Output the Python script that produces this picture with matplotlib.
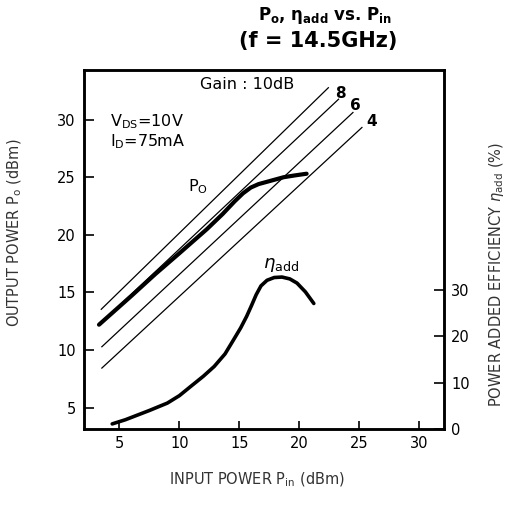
import matplotlib
matplotlib.use('Agg')
import matplotlib.pyplot as plt

plt.rcParams['font.family'] = ['DejaVu Sans']
plt.rcParams['mathtext.fontset'] = 'dejavusans'

# constant-gain reference lines: gain, Pin start/end, Pout start/end
gains = [10, 8, 6, 4]
gain_pin_start = [3.45, 3.3, 3.5, 3.5]
gain_pin_end = [22.45, 23.3, 24.5, 25.25]
gain_pout_start = [13.5, 12.2, 10.25, 8.4]
gain_pout_end = [32.8, 31.8, 30.65, 29.35]

# output power curve
po_pin = [3.3, 6.0, 8.0, 10.0, 12.3, 13.6, 14.6, 15.3, 15.95, 16.6, 17.3, 18.0, 18.7, 19.6, 20.6]
po_pout = [12.2, 14.7, 16.6, 18.4, 20.5, 21.8, 22.9, 23.6, 24.1, 24.4, 24.6, 24.8, 25.0, 25.15, 25.3]

# power added efficiency curve
eta_pin = [4.4, 5.5, 6.2, 7.5, 9.0, 10.0, 10.9, 12.0, 12.9, 13.8, 14.5, 15.1, 15.6, 16.0,
           16.4, 16.8, 17.3, 17.9, 18.55, 19.2, 19.8, 20.5, 21.2]
eta_pct = [1.1, 2.0, 2.7, 4.0, 5.6, 7.2, 9.1, 11.4, 13.5, 16.2, 19.2, 21.8, 24.3, 26.6,
           29.0, 30.9, 32.1, 32.7, 32.8, 32.4, 31.5, 29.6, 27.1]

x_ticks = [5, 10, 15, 20, 25, 30]
y_ticks = [5, 10, 15, 20, 25, 30]
eta_ticks = [0, 10, 20, 30]

fig = plt.figure(figsize=(5.18, 5.11), dpi=100)
ax = fig.add_axes([84 / 518, 82 / 511, 360 / 518, 359 / 511])
ax2 = ax.twinx()

for g, x0, x1, y0, y1 in zip(gains, gain_pin_start, gain_pin_end, gain_pout_start, gain_pout_end):
    ax.plot([x0, x1], [y0, y1], color='black', lw=0.9, solid_capstyle='butt')

ax.plot(po_pin, po_pout, color='black', lw=3.0, solid_capstyle='round', solid_joinstyle='round')
ax2.plot(eta_pin, eta_pct, color='black', lw=2.6, solid_capstyle='round', solid_joinstyle='round')

ax.set_xlim(2.05, 32.05)
ax.set_ylim(3.15, 34.3)
ax2.set_ylim(0, 77.5)

ax.set_xticks(x_ticks)
ax.set_yticks(y_ticks)
ax2.set_yticks(eta_ticks)

ax.tick_params(axis='both', direction='in', length=7, width=1.2, labelsize=10.5, pad=6)
ax.tick_params(axis='x', length=6, pad=5)
ax2.tick_params(axis='y', direction='in', length=7, width=1.2, labelsize=10.5, pad=5)
ax.tick_params(axis='x', top=False)
ax.tick_params(axis='y', right=False)

for a in (ax, ax2):
    for spine in a.spines.values():
        spine.set_linewidth(1.8)

# annotations inside the plot
ax.text(11.7, 33.0, 'Gain : 10dB', fontsize=11.5, ha='left', va='center')
ax.text(4.25, 29.8, r'V$_{\rm DS}$=10V', fontsize=11.5, ha='left', va='center')
ax.text(4.25, 28.05, r'I$_{\rm D}$=75mA', fontsize=11.5, ha='left', va='center')
ax.text(10.7, 24.2, r'P$_{\rm O}$', fontsize=11.5, ha='left', va='center')
ax2.text(17.0, 35.4, r'$\eta_{\rm add}$', fontsize=13, ha='left', va='center')
for g, xl, yl in zip(gains[1:], [23.4, 24.7, 26.0], [32.3, 31.2, 29.8]):
    ax.text(xl, yl, str(g), fontsize=11, fontweight='bold', ha='center', va='center')

fig.text(257 / 518, 1 - 480 / 511, r'INPUT POWER P$_{\rm in}$ (dBm)', fontsize=10.5,
         ha='center', va='center', color='#333333')
fig.text(15 / 518, 1 - 233 / 511, r'OUTPUT POWER P$_{\rm o}$ (dBm)', fontsize=10.5,
         ha='center', va='center', rotation=90, color='#333333')
fig.text(497 / 518, 1 - 274 / 511, r'POWER ADDED EFFICIENCY $\eta_{\rm add}$ (%)', fontsize=10.5,
         ha='center', va='center', rotation=90, color='#333333')

fig.text(325 / 518, 1 - 16 / 511, r'P$_\mathbf{o}$, η$_\mathbf{add}$ vs. P$_\mathbf{in}$',
         fontsize=12, fontweight='bold', ha='center', va='center')
fig.text(318 / 518, 1 - 41 / 511, '(f = 14.5GHz)', fontsize=15, fontweight='bold',
         ha='center', va='center')

fig.savefig('out.png', dpi=100)
